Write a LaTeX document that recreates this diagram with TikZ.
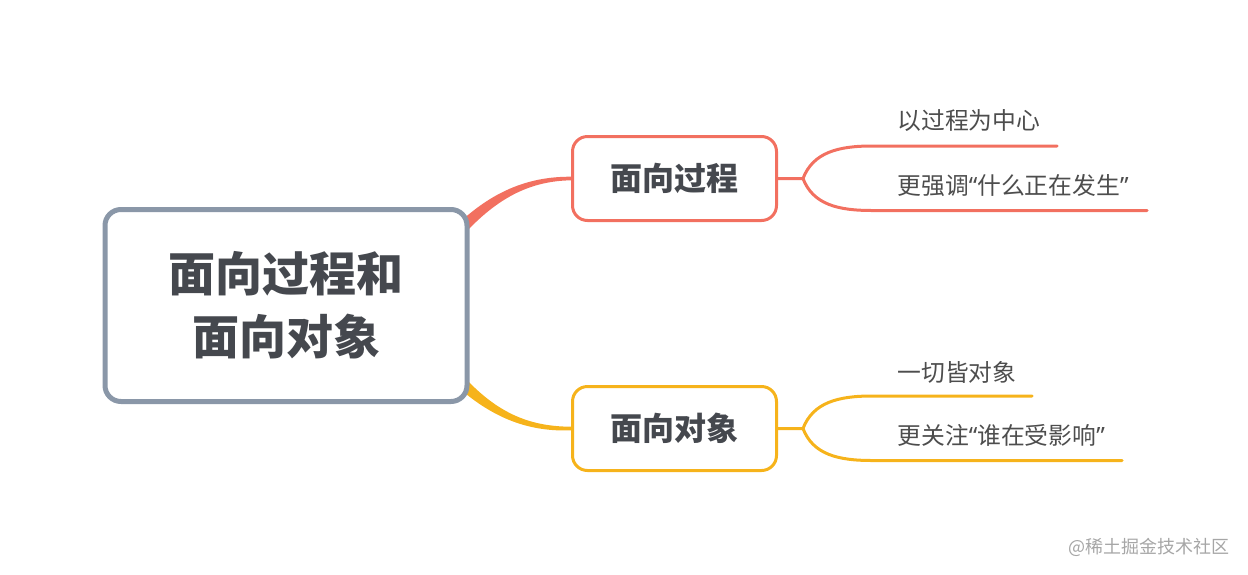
\documentclass[tikz,border=0pt]{standalone}
\usepackage{fontspec}
\setmainfont{Noto Sans CJK SC}
\newfontfamily\quotefont{Noto Sans}
\usetikzlibrary{positioning,calc,backgrounds}
\definecolor{topicgray}{HTML}{8A97A8}
\definecolor{procred}{HTML}{F27060}
\definecolor{objyellow}{HTML}{F6B31B}
\definecolor{darktext}{HTML}{45484E}
\definecolor{leaftext}{HTML}{4D4D4D}
\newcommand{\openq}{{\quotefont “}}
\newcommand{\closeq}{{\quotefont ”}}

\begin{document}
\begin{tikzpicture}[x=0.5pt, y=-0.5pt,
  central/.style={rectangle, draw=topicgray, line width=2.5pt, rounded corners=8pt, fill=white,
    minimum width=181pt, minimum height=96pt, align=center, text=darktext,
    font=\fontsize{23.5}{31.5}\selectfont\bfseries},
  branch/.style={rectangle, line width=1.5pt, rounded corners=7.5pt, fill=white,
    minimum width=102pt, minimum height=42pt, text=darktext,
    font=\fontsize{16}{19}\selectfont\bfseries},
  leaf/.style={anchor=west, inner sep=0pt, text=leaftext, font=\fontsize{11.9}{14}\selectfont},
  leafline/.style={line width=1.5pt, line cap=round}
]
  \useasboundingbox (0,0) rectangle (1248,574);

  % topic and branches
  \node[central] (oop) at (286,305.5) {面向过程和\\面向对象};
  \node[branch, draw=procred] (proc) at (674.5,178.5) {面向过程};
  \node[branch, draw=objyellow] (obj) at (674.5,428.5) {面向对象};

  % leaves
  \node[leaf] (proc1) at (897,121) {以过程为中心};
  \node[leaf] (proc2) at (897,185) {更强调\openq 什么正在发生\closeq};
  \node[leaf] (obj1) at (897,372) {一切皆对象};
  \node[leaf] (obj2) at (897,435) {更关注\openq 谁在受影响\closeq};

  \coordinate (pfork) at ($(proc.east)+(25,0)$);
  \coordinate (ofork) at ($(obj.east)+(25,0)$);
  \coordinate (pend1) at (1057,146);
  \coordinate (pend2) at (1147,210.5);
  \coordinate (oend1) at (1032,396);
  \coordinate (oend2) at (1122,460.5);

  \begin{scope}[on background layer]
    % tapered links from the topic
    \fill[procred] (460,222) .. controls (495,190) and (530,176.5) .. ($(proc.west)+(0,-1.8)$)
      -- ($(proc.west)+(0,1.8)$) .. controls (532,181) and (500,196) .. (466,232) -- cycle;
    \fill[objyellow] (466,379) .. controls (500,415) and (532,426.5) .. ($(obj.west)+(0,-1.8)$)
      -- ($(obj.west)+(0,1.8)$) .. controls (530,432) and (495,419) .. (460,389) -- cycle;
  \end{scope}

  % forks to the leaves
  \draw[leafline, procred] (proc.east) -- (pfork)
    .. controls +(10,-26) and (838,146) .. (872,146) -- (pend1);
  \draw[leafline, procred] (pfork)
    .. controls +(10,26) and (838,210.5) .. (872,210.5) -- (pend2);
  \draw[leafline, objyellow] (obj.east) -- (ofork)
    .. controls +(10,-26) and (838,396) .. (872,396) -- (oend1);
  \draw[leafline, objyellow] (ofork)
    .. controls +(10,26) and (838,460.5) .. (872,460.5) -- (oend2);

  \node[text=black!35, font=\fontsize{9}{11}\selectfont] (mark) at (1149,547) {@稀土掘金技术社区};
\end{tikzpicture}
\end{document}
